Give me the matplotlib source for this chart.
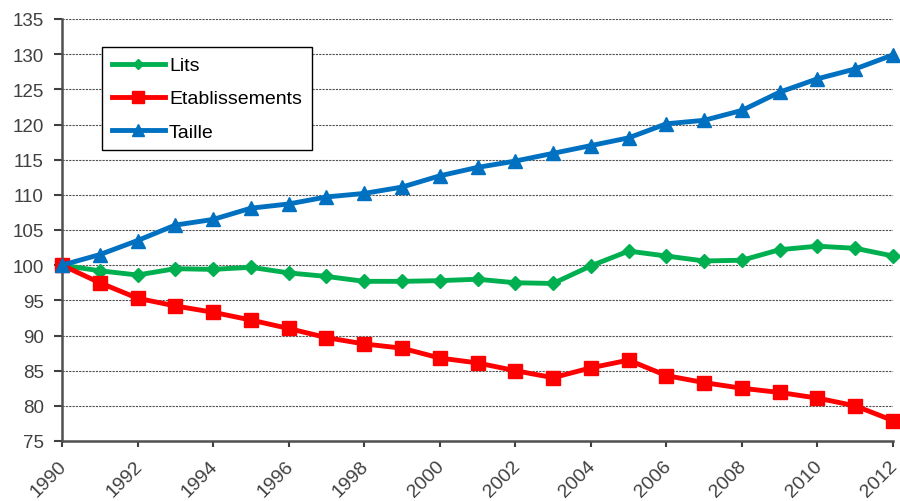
import matplotlib
matplotlib.use("Agg")
import matplotlib.pyplot as plt
import matplotlib.transforms as mtransforms

years = list(range(1990, 2013))
lits = [100, 99.2, 98.6, 99.5, 99.4, 99.7, 98.9, 98.4, 97.7, 97.7, 97.8, 98.0,
        97.5, 97.4, 99.9, 102.0, 101.3, 100.6, 100.7, 102.2, 102.7, 102.4, 101.3]
etab = [100, 97.5, 95.3, 94.2, 93.3, 92.2, 91.0, 89.7, 88.8, 88.2, 86.8, 86.1,
        85.0, 84.0, 85.4, 86.5, 84.3, 83.3, 82.5, 81.9, 81.1, 80.0, 77.9]
taille = [100, 101.5, 103.5, 105.7, 106.5, 108.1, 108.7, 109.7, 110.2, 111.1, 112.7, 113.9,
          114.8, 115.9, 117.0, 118.1, 120.1, 120.6, 122.0, 124.6, 126.5, 127.9, 129.9]
yticks = list(range(75, 136, 5))
xticks = list(range(1990, 2013, 2))

plt.rcParams['font.family'] = ['Liberation Sans', 'DejaVu Sans']

fig = plt.figure(figsize=(9, 5.02), dpi=100)
ax = fig.add_axes([62/900, 1-442/502, (893-62)/900, (442-20)/502])

ax.plot(years, lits, color='#00B050', lw=3.5, marker='D', ms=7, label='Lits', clip_on=False, zorder=3)
ax.plot(years, etab, color='#FF0000', lw=3.5, marker='s', ms=10, label='Etablissements', clip_on=False, zorder=4)
ax.plot(years, taille, color='#0070C0', lw=3.5, marker='^', ms=10, label='Taille', clip_on=False, zorder=5)

ax.set_xlim(1990, 2012)
ax.set_ylim(75, 135)
ax.set_yticks(yticks)
ax.set_xticks(xticks)
ax.set_xticklabels([str(x) for x in xticks], rotation=45, ha='right', rotation_mode='anchor')
ax.tick_params(axis='both', colors='#404040', width=1.5, direction='out')
ax.tick_params(axis='y', labelsize=13.5, length=6, pad=7)
ax.tick_params(axis='x', labelsize=14, length=4.5, pad=7)
offset = mtransforms.ScaledTranslation(-4/100, 0, fig.dpi_scale_trans)
for lab in ax.get_xticklabels():
    lab.set_transform(lab.get_transform() + offset)

ax.grid(axis='y', linestyle=(0, (2, 1)), color='#505050', lw=0.8)
ax.set_axisbelow(True)
for s in ['top', 'right']:
    ax.spines[s].set_visible(False)
for s in ['left', 'bottom']:
    ax.spines[s].set_color('#505050')
    ax.spines[s].set_linewidth(1.8)

leg = ax.legend(loc='upper left', bbox_to_anchor=((102-62)/831, 1-(48-20)/422),
                borderaxespad=0, fontsize=14, frameon=True, fancybox=False, handlelength=2.75,
                borderpad=0.5, labelspacing=0.8, handletextpad=0.2, markerscale=0.8,
                framealpha=1)
leg.get_frame().set_edgecolor('black')
leg.get_frame().set_linewidth(1.0)

fig.savefig('out.png', dpi=100)
